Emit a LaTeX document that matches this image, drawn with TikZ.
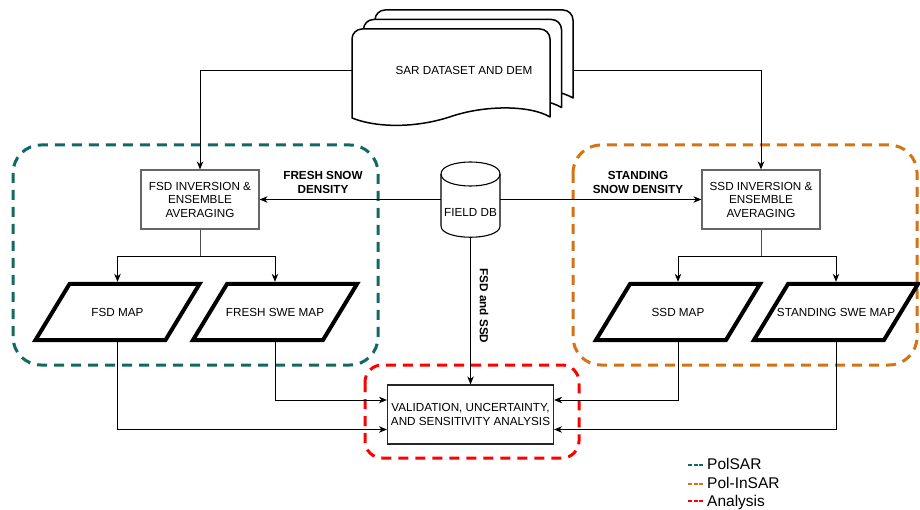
\documentclass[tikz,border=0pt]{standalone}
\usepackage{fontspec}
\setmainfont{Liberation Sans}
\usetikzlibrary{arrows.meta,calc}
\definecolor{polsar}{RGB}{18,105,100}
\definecolor{polinsar}{RGB}{212,115,18}
\definecolor{analysis}{RGB}{255,0,0}
\newcommand\legdash[1]{\textcolor{#1}{\rule[4pt]{4pt}{2pt}\hspace{1.5pt}\rule[4pt]{4pt}{2pt}\hspace{1.5pt}\rule[4pt]{4pt}{2pt}}\hspace{4pt}}
\begin{document}
\begin{tikzpicture}[x=1pt,y=-1pt,
  every node/.style={font=\fontsize{11.7}{13.5}\selectfont},
  procbox/.style={draw=black!60,line width=1.2pt,minimum width=118,minimum height=59,align=center,inner sep=0pt},
  valbox/.style={draw=black!85,line width=1.1pt,minimum width=166,minimum height=59,align=center,inner sep=0pt},
  mapnode/.style={draw=none,minimum width=100,minimum height=60,inner sep=0pt},
  mapline/.style={line width=4pt,line join=miter},
  lbl/.style={font=\fontsize{11.7}{14}\selectfont\bfseries,align=center},
  arr/.style={line width=0.9pt,-{Stealth[length=8pt,width=6.5pt,inset=2.5pt]}},
  plain/.style={line width=0.9pt},
  grouprect/.style={line width=3pt,dash pattern=on 10pt off 7pt},
  docline/.style={line width=1.5pt,fill=white,line join=round},
  legend/.style={font=\fontsize{15.5}{17}\selectfont,anchor=west,inner sep=0pt}
]
\useasboundingbox (0,0) rectangle (920,510);

% group boxes
\draw[grouprect,draw=polsar,rounded corners=28] (13,145) rectangle (378,365);
\draw[grouprect,draw=polinsar,rounded corners=28] (573,145) rectangle (917,365);
\draw[grouprect,draw=analysis,rounded corners=17] (365,365) rectangle (579,458);

% nodes
\node[draw=none,minimum width=198,minimum height=82,inner sep=0pt] (sar) at (451,70) {};
\node[procbox] (fsd) at (200,199.5) {FSD INVERSION \&\\ENSEMBLE\\AVERAGING};
\node[procbox] (ssd) at (761,199.5) {SSD INVERSION \&\\ENSEMBLE\\AVERAGING};
\node[draw=none,minimum width=59,minimum height=76,inner sep=0pt] (db) at (470.5,199.5) {};
\node (dbtext) at (470.5,212) {FIELD DB};
\node[valbox] (val) at (470.5,414.5) {VALIDATION, UNCERTAINTY,\\AND SENSITIVITY ANALYSIS};
\node[mapnode] (fsdmap) at (117.5,312) {FSD MAP};
\node[mapnode] (freshmap) at (275,312) {FRESH SWE MAP};
\node[mapnode] (ssdmap) at (678,312) {SSD MAP};
\node[mapnode] (standmap) at (836,312) {STANDING SWE MAP};

% labels
\node[lbl] (lfresh) at (323,182) {FRESH SNOW\\DENSITY};
\node[lbl] (lstand) at (638,182) {STANDING\\SNOW DENSITY};
\node[lbl,rotate=-90] (lboth) at (484,306) {FSD and SSD};

% connectors
\draw[arr] (sar.west) -| (fsd.north);
\draw[arr] (sar.east) -| (ssd.north);
\draw[arr] (db.west) -- (fsd.east);
\draw[arr] (db.east) -- (ssd.west);
\draw[arr] (db.south) -- (val.north);
\draw[plain,draw=black!70] (fsd.south) -- ++(0,27) coordinate (fb);
\draw[arr] (fb) -| (fsdmap.north);
\draw[arr] (fb) -| (freshmap.north);
\draw[plain,draw=black!70] (ssd.south) -- ++(0,27) coordinate (sb);
\draw[arr] (sb) -| (ssdmap.north);
\draw[arr] (sb) -| (standmap.north);
\draw[arr] (freshmap.south) |- ($(val.west)+(0,-14.5)$);
\draw[arr] (fsdmap.south) |- ($(val.west)+(0,15)$);
\draw[arr] (ssdmap.south) |- ($(val.east)+(0,-14.5)$);
\draw[arr] (standmap.south) |- ($(val.east)+(0,15)$);

% parallelogram outlines
\foreach \n in {fsdmap,freshmap,ssdmap,standmap}
  \draw[mapline] ($(\n.center)+(-82,28)$) -- ($(\n.center)+(48,28)$) -- ($(\n.center)+(82,-28)$) -- ($(\n.center)+(-48,-28)$) -- cycle;

% cylinder
\draw[line width=1.1pt,fill=none]
  (441,174) -- (441,226)
  .. controls (441,241) and (500,241) .. (500,226)
  -- (500,174)
  .. controls (500,158) and (441,158) .. (441,174);
\draw[line width=1.1pt] (441,174) .. controls (441,190) and (500,190) .. (500,174);

% document stack
\foreach \dx/\dy in {23/-19,11.5/-9.5,0/0}{
  \begin{scope}[shift={(\dx,\dy)}]
  \draw[docline] (352,118) -- (352,39) .. controls (352,33.5) and (356.5,29) .. (362,29)
    -- (540,29) .. controls (545.5,29) and (550,33.5) .. (550,39) -- (550,117)
    .. controls (530,105) and (485,105) .. (451,116.5)
    .. controls (420,127) and (380,129) .. (352,118) -- cycle;
  \end{scope}
}
\node (sartext) at (464,70) {SAR DATASET AND DEM};

% legend
\node[legend] (leg1) at (688,464) {\legdash{polsar}PolSAR};
\node[legend] (leg2) at (688,483) {\legdash{polinsar}Pol-InSAR};
\node[legend] (leg3) at (688,502) {\legdash{analysis}Analysis};
\end{tikzpicture}
\end{document}
